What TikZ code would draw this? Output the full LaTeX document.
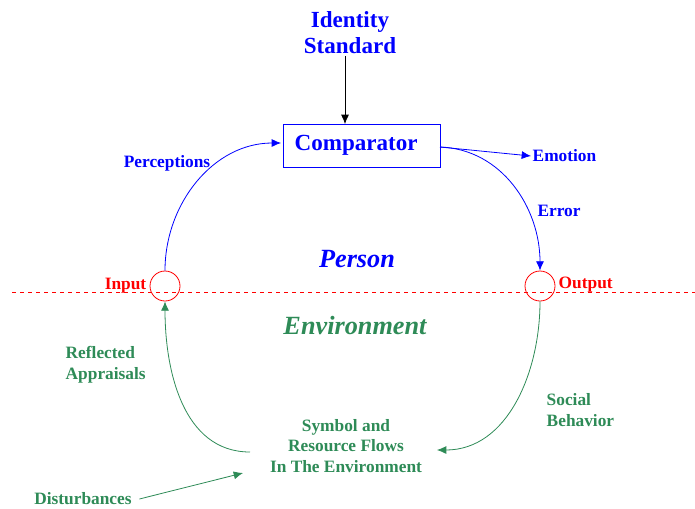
\documentclass[tikz,border=0pt]{standalone}
\usepackage{fontspec}
\setmainfont{Liberation Serif}
\usetikzlibrary{arrows.meta}
\definecolor{envgreen}{RGB}{46,139,87}

\begin{document}
\begin{tikzpicture}[x=0.75pt,y=-0.75pt, line width=0.6pt,
	lbl/.style={font=\bfseries\fontsize{13}{15.5}\selectfont, align=center, inner sep=1pt},
	big/.style={font=\bfseries\fontsize{17.3}{19.5}\selectfont, align=center, inner sep=1pt},
	world/.style={font=\bfseries\itshape\fontsize{19.7}{22}\selectfont, inner sep=1pt},
	port/.style={draw=red, circle, minimum size=30pt*0.75, inner sep=0pt},
	arr/.style={-{Latex[length=7pt,width=6pt]}}]
	\useasboundingbox (0,0) rectangle (695,508);
	% the two worlds
	\draw[red, dashed] (12,292) -- (695,292);
	\node[big, blue] (std) at (350,33) {Identity\\Standard};
	\node[draw=blue, minimum width=157*0.75pt, minimum height=43*0.75pt, big, blue] (comp) at (361.5,145.5) {\raisebox{-3pt}{Comparator}\hspace*{8pt}};
	\node[port] (in) at (165,286) {};
	\node[port] (out) at (540,286) {};
	\node[lbl, red, anchor=east] (inlbl) at (148,286) {Input};
	\node[lbl, red, anchor=west] (outlbl) at (557,285) {Output};
	\node[world, blue] (person) at (357,259) {Person};
	\node[world, envgreen] (env) at (355,326) {Environment};
	\node[lbl, blue] (perc) at (167,163) {Perceptions};
	\node[lbl, blue, anchor=west] (emo) at (531,156) {Emotion};
	\node[lbl, blue] (err) at (559,211) {Error};
	\node[lbl, envgreen, align=left, anchor=west] (refl) at (64,365) {Reflected\\Appraisals};
	\node[lbl, envgreen, align=left, anchor=west] (soc) at (545,410) {Social\\Behavior};
	\node[lbl, envgreen] (flows) at (346,446) {Symbol and\\Resource Flows\\In The Environment};
	\node[lbl, envgreen] (dist) at (83,499) {Disturbances};
	\coordinate (ctop) at (345,124);
	\coordinate (cin) at (281,143);
	\coordinate (cout) at (440,147);
	\coordinate (fin) at (437,450);
	\coordinate (fout) at (250,452);
	\coordinate (dhit) at (243,473);
	% loop through the person
	\draw[arr] (std.south -| ctop) -- (ctop);
	\draw[blue, arr] (in.north) to[out=90, in=180] (cin);
	\draw[blue, arr] (cout) -- (emo.west);
	\draw[blue, arr] (cout) to[out=-2, in=90] (out.north);
	% loop through the environment
	\draw[envgreen, arr] (out.south) to[out=-90, in=0] (fin);
	\draw[envgreen, arr] (fout) to[out=180, in=-90] (in.south);
	\draw[envgreen, arr] (dist.east) ++(6,0) -- (dhit);
\end{tikzpicture}
\end{document}
